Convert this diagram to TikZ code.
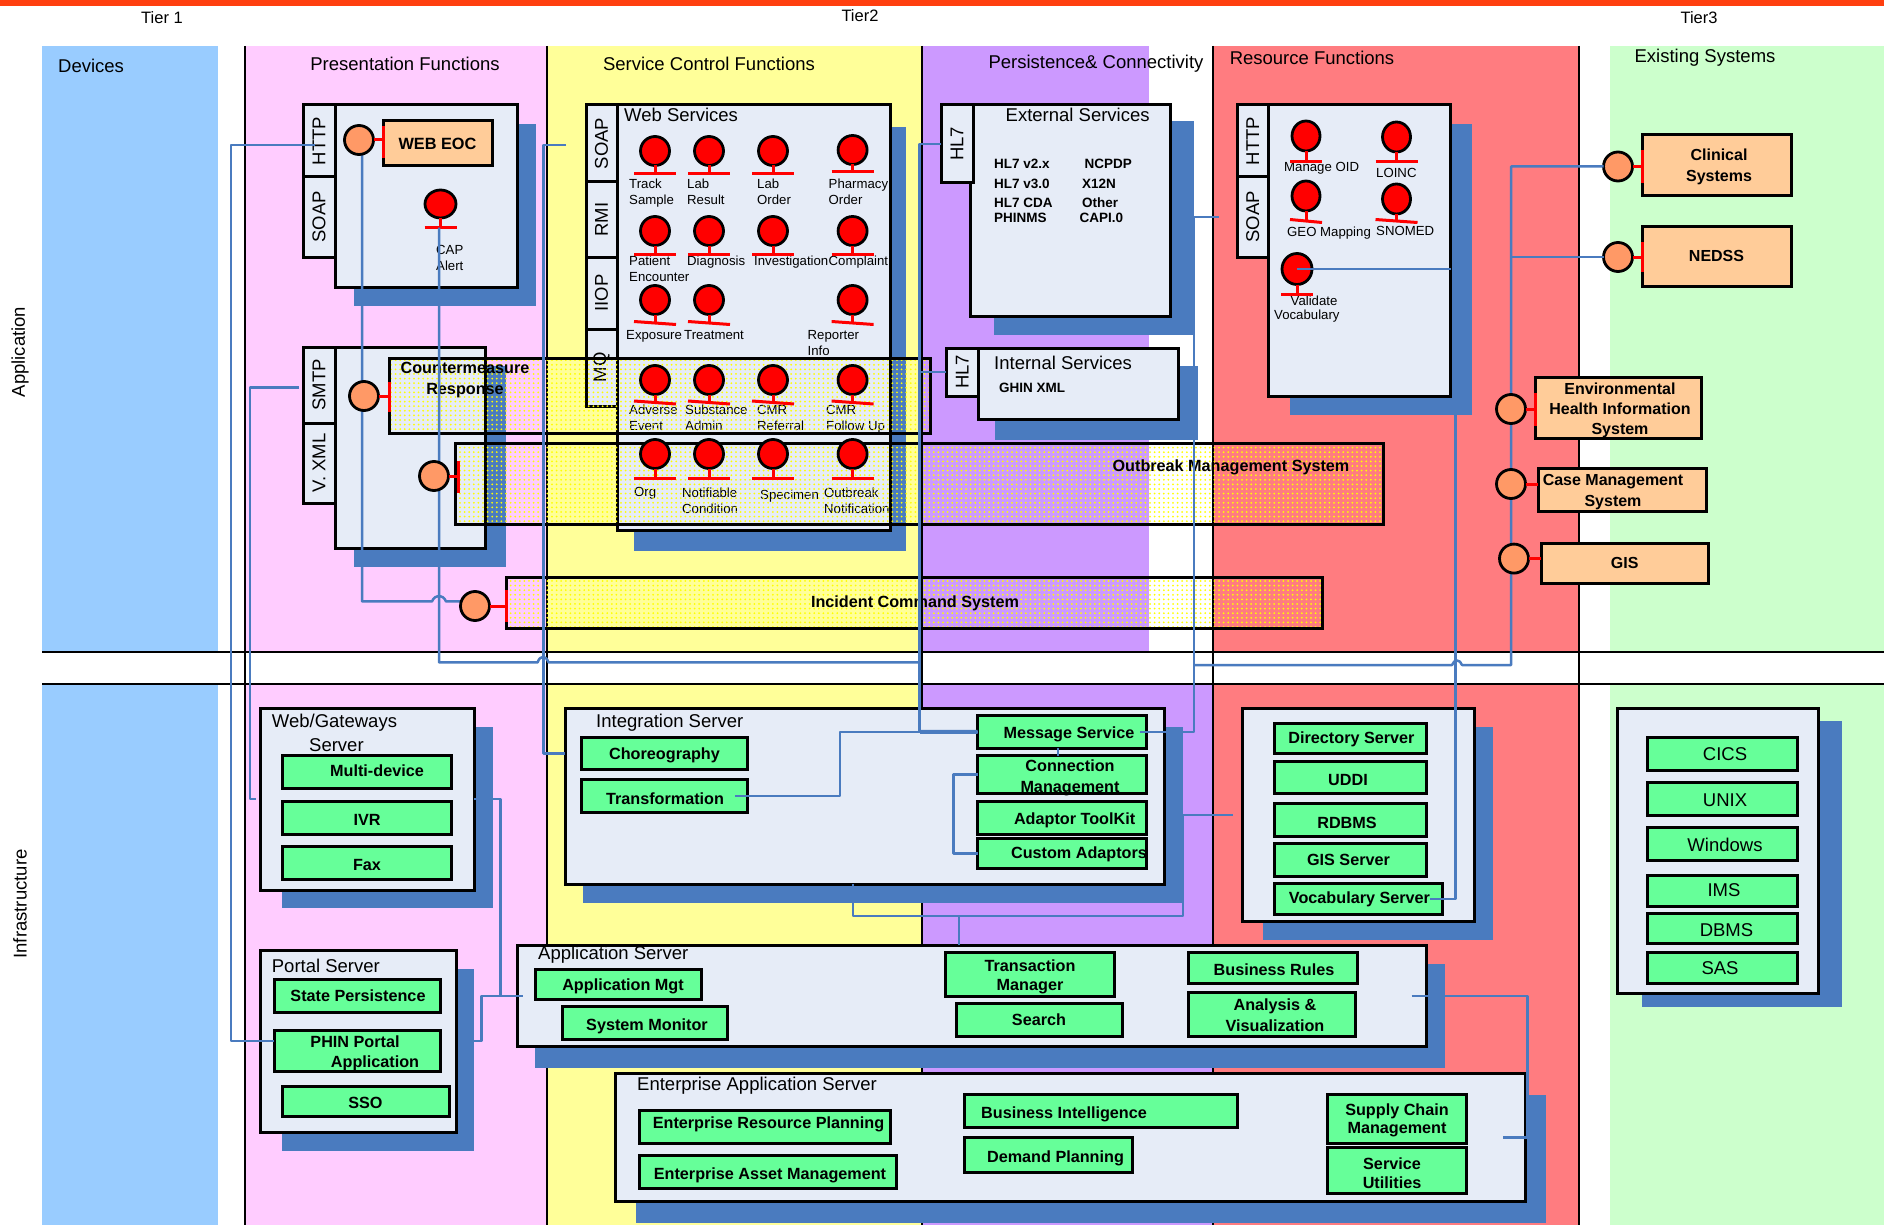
\documentclass[tikz,border=0pt]{standalone}
\usepackage{fontspec}
\setmainfont{Liberation Sans}
\usetikzlibrary{shapes.geometric,patterns.meta,calc}
\definecolor{cDev}{HTML}{99CCFF}
\definecolor{cPink}{HTML}{FFCCFF}
\definecolor{cYel}{HTML}{FFFF99}
\definecolor{cPur}{HTML}{CC99FF}
\definecolor{cRed}{HTML}{FF7C80}
\definecolor{cGrn}{HTML}{CCFFCC}
\definecolor{cTop}{HTML}{FF3F0F}
\definecolor{cShadow}{HTML}{4A7BBF}
\definecolor{cLav}{HTML}{E6ECF7}
\definecolor{cMint}{HTML}{66FF99}
\definecolor{cPeach}{HTML}{FFCC99}
\definecolor{cSock}{HTML}{FF9966}
\tikzset{
  shadow/.style={fill=cShadow,draw=none},
  panel/.style={fill=cLav,draw=black,line width=3pt},
  mint/.style={fill=cMint,draw=black,line width=3pt},
  peach/.style={fill=cPeach,draw=black,line width=3pt},
  dotted box/.style={draw=black,line width=3pt,pattern={Dots[radius=1pt,distance=4.6pt]},pattern color=yellow},
  conn/.style={draw=cShadow,line width=2.5pt,line join=round},
  sep/.style={draw=black,line width=2.2pt},
  sock/.style={ellipse,draw=black,line width=2.8pt,fill=cSock,inner sep=0pt,outer sep=0pt,minimum width=29pt,minimum height=29pt},
  redlink/.style={draw=red,line width=3pt},
  ball/.style={ellipse,draw=black,line width=2.8pt,fill=red,inner sep=0pt,outer sep=0pt},
  ttl/.style={font=\fontsize{18.5}{20}\selectfont,inner sep=0pt},
  lab/.style={font=\fontsize{13.2}{16}\selectfont,inner sep=0pt},
  bld/.style={font=\fontsize{16.2}{20}\bfseries\selectfont,inner sep=0pt},
  sbd/.style={font=\fontsize{13.5}{16}\bfseries\selectfont,inner sep=0pt},
}
\newcounter{lab}
\newcommand\rbx[7]{%
  \pgfmathsetmacro\rbw{#5-#3}\pgfmathsetmacro\rbh{#6-#4}%
  \pgfmathsetmacro\rbcx{(#3+#5)/2}\pgfmathsetmacro\rbcy{(#4+#6)/2}%
  \node[#1,minimum width=\rbw pt,minimum height=\rbh pt,inner sep=0pt,outer sep=0pt] (#2) at (\rbcx,\rbcy) {#7};}
\newcommand\tabx[6]{\rbx{panel}{#1}{#2}{#3}{#4}{#5}{}%
  \stepcounter{lab}\node[ttl,rotate=90] (lb\arabic{lab}) at (#1.center) {#6};}
% text: style, x, y, text (centred)
\newcommand\tc[4]{\stepcounter{lab}\node[#1,align=center,anchor=center] (lb\arabic{lab}) at (#2,#3) {#4};}
% text: style, x, y, text (left)
\newcommand\tw[4]{\stepcounter{lab}\node[#1,align=left,anchor=west] (lb\arabic{lab}) at (#2,#3) {#4};}
% left-aligned label, y of the centre of the first line
\newcommand\tl[3]{\stepcounter{lab}\node[lab,align=left,anchor=north west] (lb\arabic{lab}) at (#1,#2-5) {#3};}
% lollipop: name x y barY halfbar rx ry tilt
\newcommand\lol[8]{%
  \coordinate (#1bar) at (#2,#4);
  \node[ball,minimum width=2*#6 pt,minimum height=2*#7 pt] (#1) at (#2,#3) {};
  \draw[redlink] (#1.south) -- (#1bar);
  \draw[redlink] ($(#1bar)+(-#5,-#8)$) -- ($(#1bar)+(#5,#8)$);}
\begin{document}
\begin{tikzpicture}[x=1pt,y=-1pt]
\useasboundingbox (0,0) rectangle (1884,1225);
\fill[white] (0,0) rectangle (1884,1225);
\fill[cTop] (0,0) rectangle (1884,6);
% columns
\fill[cDev] (42,46) rectangle (218,652); \fill[cDev] (42,684) rectangle (218,1225);
\fill[cPink] (245,46) rectangle (547,652); \fill[cPink] (245,684) rectangle (547,1225);
\fill[cYel] (547,46) rectangle (922,652); \fill[cYel] (547,684) rectangle (922,1225);
\fill[cPur] (922,46) rectangle (1149,652); \fill[cPur] (922,684) rectangle (1213,1225);
\fill[cRed] (1213,46) rectangle (1579,652); \fill[cRed] (1213,684) rectangle (1579,1225);
\fill[cGrn] (1610,46) rectangle (1884,652); \fill[cGrn] (1610,684) rectangle (1884,1225);
% separators
\foreach \sx in {245,547,922,1213,1579} \draw[sep] (\sx,46) -- (\sx,1225);
\draw[sep] (42,652) -- (1884,652);
\draw[sep] (42,684) -- (1884,684);
% headings
\tc{lab,font=\fontsize{16.5}{20}\selectfont}{162}{18}{Tier 1}
\tc{lab,font=\fontsize{16.5}{20}\selectfont}{860}{16}{Tier2}
\tc{lab,font=\fontsize{16.5}{20}\selectfont}{1699}{18}{Tier3}
\tw{ttl}{58}{66}{Devices}
\tc{ttl}{405}{64}{Presentation Functions}
\tc{ttl}{709}{64}{Service Control Functions}
\tc{ttl}{1096}{64}{Persistence\& Connectivity}
\tc{ttl}{1312}{58}{Resource Functions}
\tc{ttl}{1705}{58}{Existing Systems}
\stepcounter{lab}\node[ttl,rotate=90] (lb\arabic{lab}) at (20,352) {Application};
\stepcounter{lab}\node[ttl,rotate=90] (lb\arabic{lab}) at (20,904) {Infrastructure};

% --- Application tier panels
\rbx{shadow}{sh1}{354}{124}{536}{306}{}
\rbx{panel}{pres1}{335}{105}{517}{287}{}
\tabx{thttp}{303}{105}{335}{177}{HTTP}
\tabx{tsoap}{303}{177}{335}{257}{SOAP}
\rbx{peach}{webeoc}{383}{121}{492}{166}{\fontsize{16.3}{20}\bfseries\selectfont WEB EOC}
\tl{436}{250}{CAP\\Alert}

\rbx{shadow}{sh2}{354}{366}{506}{567}{}
\rbx{panel}{pres2}{335}{347}{485}{548}{}
\tabx{tsmtp}{303}{347}{335}{423}{SMTP}
\tabx{tvxml}{303}{423}{335}{503}{V. XML}

\rbx{shadow}{sh3}{634}{127}{906}{551}{}
\rbx{panel}{websvc}{617}{105}{890.5}{530}{}
\tabx{wssoap}{586}{105}{617}{182}{SOAP}
\tabx{wsrmi}{586}{182}{617}{257}{RMI}
\tabx{wsiiop}{586}{257}{617}{329}{IIOP}
\tabx{wsmq}{586}{329}{617}{406}{MQ}
\tw{ttl}{624}{115}{Web Services}
\tl{629}{183.5}{Track\\Sample}
\tl{687}{183.5}{Lab\\Result}
\tl{757}{183.5}{Lab\\Order}
\tl{828.5}{183.5}{Pharmacy\\Order}
\tl{629}{261}{Patient\\Encounter}
\tl{687}{261}{Diagnosis}
\tl{754}{261}{Investigation}
\tl{828.5}{261}{Complaint}
\tl{626}{335}{Exposure}
\tl{684}{335}{Treatment}
\tl{807.5}{335}{Reporter\\Info}
\tl{629}{410}{Adverse\\Event}
\tl{685}{410}{Substance\\Admin}
\tl{757}{410}{CMR\\Referral}
\tl{826}{410}{CMR\\Follow Up}
\tl{634}{492.5}{Org}
\tl{682}{492.5}{Notifiable\\Condition}
\tl{760}{495}{Specimen}
\tl{824}{492.5}{Outbreak\\Notification}

\rbx{shadow}{sh4}{994}{121}{1194}{335}{}
\rbx{panel}{extsvc}{970}{105}{1170}{316}{}
\tabx{hle}{941}{105}{973}{183}{HL7}
\tw{ttl}{1005.5}{115}{External Services}
\tw{sbd}{994}{164}{HL7 v2.x}
\tw{sbd}{994}{183.5}{HL7 v3.0}
\tw{sbd}{994}{202.5}{HL7 CDA}
\tw{sbd}{994}{218}{PHINMS}
\tw{sbd}{1084.5}{164}{NCPDP}
\tw{sbd}{1082}{183.5}{X12N}
\tw{sbd}{1082}{202.5}{Other}
\tw{sbd}{1079.5}{218}{CAPI.0}

\rbx{shadow}{sh5}{995}{366}{1198}{440}{}
\rbx{panel}{intsvc}{978.5}{348}{1178}{419}{}
\tabx{hli}{946}{348}{978.5}{396}{HL7}
\tw{ttl}{994}{363}{Internal Services}
\tw{sbd}{999}{388}{GHIN XML}

\rbx{shadow}{sh6}{1290}{124}{1472}{415}{}
\rbx{panel}{resf}{1268.5}{105}{1450.5}{396}{}
\tabx{rhttp}{1237}{105}{1268.5}{177}{HTTP}
\tabx{rsoap}{1237}{177}{1268.5}{257}{SOAP}
\tl{1284}{167.5}{Manage OID}
\tl{1376}{173}{LOINC}
\tl{1287}{231.5}{GEO Mapping}
\tl{1376}{231.5}{SNOMED}
\tw{lab}{1290.5}{300.7}{Validate}
\tw{lab}{1274}{316.5}{Vocabulary}

% --- Existing systems
\rbx{peach}{clinical}{1642}{134.6}{1791}{196}{}
\tc{bld,font=\fontsize{16}{21.5}\bfseries\selectfont}{1719}{167}{Clinical\\Systems}
\rbx{peach}{nedss}{1642}{226}{1791}{286.5}{\fontsize{16}{20}\bfseries\selectfont NEDSS}
\rbx{peach}{env}{1535}{377.5}{1701}{438.6}{}
\tc{bld,font=\fontsize{16}{20}\bfseries\selectfont}{1620}{410.5}{Environmental\\Health Information\\System}
\rbx{peach}{casem}{1538}{468}{1706}{511}{}
\tc{bld,font=\fontsize{16}{20.5}\bfseries\selectfont}{1613}{492}{Case Management\\System}
\rbx{peach}{gisb}{1541}{543}{1708.5}{583}{\fontsize{16}{20}\bfseries\selectfont GIS}

% --- Infrastructure
\rbx{shadow}{sh7}{282}{726.6}{493}{907.5}{}
\rbx{panel}{webgw}{260}{708}{474}{890}{}
\tw{ttl}{271.7}{723}{Web/Gateways}
\tw{ttl}{309}{745}{Server}
\rbx{mint}{multi}{282}{755.7}{451}{788.5}{}\tc{bld}{377}{771}{Multi-device}
\rbx{mint}{ivr}{282}{801}{451}{834}{}\tc{bld}{367}{819.5}{IVR}
\rbx{mint}{fax}{282}{846}{451}{879}{}\tc{bld}{367}{865}{Fax}

\rbx{shadow}{portalSh}{282}{969}{474}{1151}{}
\rbx{panel}{portal}{260}{950.4}{456}{1132.5}{}
\tw{ttl}{271.7}{965.7}{Portal Server}
\rbx{mint}{state}{274}{979.5}{440}{1012}{}\tc{bld}{358}{995.6}{State Persistence}
\rbx{mint}{phin}{274}{1030}{440}{1071.7}{}
\tc{bld}{355}{1042}{PHIN Portal}
\tc{bld}{375}{1063}{Application}
\rbx{mint}{sso}{282}{1086}{449.6}{1116.5}{}\tc{bld}{365.4}{1102.7}{SSO}

\rbx{shadow}{integSh}{583}{726.6}{1183}{903}{}
\rbx{panel}{integ}{565}{708}{1164.5}{884.4}{}
\tw{ttl}{596}{723}{Integration Server}
\rbx{mint}{choreo}{581}{737}{747}{769.5}{}\tc{bld}{664.5}{755.7}{Choreography}
\rbx{mint}{trans}{581}{779.5}{747}{812.4}{}\tc{bld}{665}{798.6}{Transformation}
\rbx{mint}{msg}{977.6}{715.7}{1146}{748}{}\tc{bld}{1069}{734.8}{Message Service}
\rbx{mint}{connm}{977.6}{755.7}{1146}{793.7}{}
\tc{bld,font=\fontsize{16.2}{21}\bfseries\selectfont}{1070}{777.5}{Connection\\Management}
\rbx{mint}{adapt}{977.6}{801}{1146}{834}{}\tc{bld}{1074.6}{820}{Adaptor ToolKit}
\rbx{mint}{custom}{977.6}{838.5}{1146}{868.4}{}\tc{bld}{1079}{854.6}{Custom Adaptors}

\rbx{shadow}{appSh}{535}{964}{1445}{1067.6}{}
\rbx{panel}{appsrv}{517}{945}{1426}{1046.7}{}
\tw{ttl}{538}{955}{Application Server}
\rbx{mint}{appmgt}{535}{969}{701.5}{999.3}{}\tc{bld}{623}{986}{Application Mgt}
\rbx{mint}{sysmon}{562.5}{1006.4}{727.6}{1039}{}\tc{bld}{647}{1026}{System Monitor}
\rbx{mint}{txn}{945.8}{952.7}{1114}{996.3}{}
\tc{bld,font=\fontsize{16.2}{19}\bfseries\selectfont}{1030}{976.5}{Transaction\\Manager}
\rbx{mint}{search}{956.6}{1003.8}{1122.4}{1036}{}\tc{bld}{1039}{1020}{Search}
\rbx{mint}{rules}{1188}{952.7}{1357}{983.3}{}\tc{bld}{1274}{969.5}{Business Rules}
\rbx{mint}{analysis}{1188}{992.6}{1355}{1036}{}
\tc{bld,font=\fontsize{16.2}{21}\bfseries\selectfont}{1275}{1015}{Analysis \&\\Visualization}

\rbx{shadow}{entSh}{636}{1095}{1545.5}{1223}{}
\rbx{panel}{ent}{615.4}{1073.6}{1525}{1201.6}{}
\tw{ttl}{637}{1086}{Enterprise Application Server}
\rbx{mint}{erp}{639}{1110}{890}{1143}{}\tc{bld}{768.5}{1124}{Enterprise Resource Planning}
\rbx{mint}{eam}{639}{1155.7}{896}{1188.5}{}\tc{bld}{770}{1175}{Enterprise Asset Management}
\rbx{mint}{bi}{964}{1094.5}{1237.5}{1127}{}\tc{bld}{1064}{1114}{Business Intelligence}
\rbx{mint}{demand}{964}{1137}{1132.6}{1172}{}\tc{bld}{1055.5}{1158.7}{Demand Planning}
\rbx{mint}{supply}{1327.5}{1094.5}{1466.5}{1143}{}
\tc{bld,font=\fontsize{16.2}{18.6}\bfseries\selectfont}{1397}{1120.5}{Supply Chain\\Management}
\rbx{mint}{svcu}{1327.5}{1147.5}{1466.5}{1193.7}{}
\tc{bld,font=\fontsize{16.2}{19}\bfseries\selectfont}{1392}{1173.5}{Service\\Utilities}

\rbx{shadow}{resSh2}{1263}{726.6}{1493}{939.6}{}
\rbx{panel}{resinf}{1242.5}{708}{1474.5}{921.7}{}
\rbx{mint}{dir}{1274}{723.6}{1426.5}{753.8}{}\tc{bld}{1351.5}{739.6}{Directory Server}
\rbx{mint}{uddi}{1274}{761}{1426.5}{793.7}{}\tc{bld}{1348}{779.6}{UDDI}
\rbx{mint}{rdbms}{1274}{803.4}{1426.5}{836.3}{}\tc{bld}{1347}{822.5}{RDBMS}
\rbx{mint}{gissrv}{1274}{843.7}{1426.5}{876.2}{}\tc{bld}{1348.5}{859.8}{GIS Server}
\rbx{mint}{vocab}{1274}{883.7}{1442.5}{914.3}{}\tc{bld}{1359.5}{899.7}{Vocabulary Server}

\rbx{shadow}{exSh}{1642}{721}{1842}{1006.8}{}
\rbx{panel}{exist}{1617.5}{708}{1818.5}{993.4}{}
\rbx{mint}{cics}{1647}{737}{1797}{770}{}\tc{ttl}{1725}{754}{CICS}
\rbx{mint}{unix}{1647}{782}{1797}{815}{}\tc{ttl}{1725}{800.4}{UNIX}
\rbx{mint}{win}{1647}{827.7}{1797}{860.5}{}\tc{ttl}{1725}{845}{Windows}
\rbx{mint}{ims}{1647}{875.8}{1797}{906}{}\tc{ttl}{1724}{890}{IMS}
\rbx{mint}{dbms}{1647}{913}{1797}{943.3}{}\tc{ttl}{1726.5}{930}{DBMS}
\rbx{mint}{sas}{1647}{952.7}{1797}{983.3}{}\tc{ttl}{1720}{968.4}{SAS}

% --- dotted overlay boxes
\rbx{dotted box}{cm}{389}{358.5}{930}{433.5}{}
\rbx{dotted box}{om}{455}{443.5}{1383}{524}{}
\rbx{dotted box}{ic}{506}{577}{1322}{628}{}
\tc{bld,font=\fontsize{16.2}{21}\bfseries\selectfont}{465}{380.5}{Countermeasure\\Response}
\tc{bld}{1231}{467.5}{Outbreak Management System}
\tc{bld}{915}{603.5}{Incident Command System}

% --- lollipops
\lol{lCap}{440.5}{204}{227.5}{16}{15.5}{14}{0}
\lol{lTrack}{655}{151}{174}{21}{14.5}{14.5}{0}
\lol{lLabR}{709}{151}{174}{21}{14.5}{14.5}{0}
\lol{lLabO}{773}{151}{174}{21}{14.5}{14.5}{0}
\lol{lPhar}{852.6}{150}{172}{21}{14.5}{14.5}{0}
\lol{lPat}{655}{231}{254}{21}{14.5}{14.5}{0}
\lol{lDiag}{709}{231}{254}{21}{14.5}{14.5}{0}
\lol{lInv}{773}{231}{254}{21}{14.5}{14.5}{0}
\lol{lComp}{852.6}{231}{254}{21}{14.5}{14.5}{0}
\lol{lExp}{655}{300}{323}{21}{14.5}{14.5}{1.5}
\lol{lTreat}{709}{300}{323}{21}{14.5}{14.5}{1.5}
\lol{lRep}{852.6}{300}{323}{21}{14.5}{14.5}{1.5}
\lol{lAdv}{655}{380}{402.5}{21}{14.5}{14.5}{1.5}
\lol{lSub}{709}{380}{402.5}{21}{14.5}{14.5}{1.5}
\lol{lRef}{773}{380}{402.5}{21}{14.5}{14.5}{1.5}
\lol{lFol}{852.6}{380}{402.5}{21}{14.5}{14.5}{1.5}
\lol{lOrg}{655}{454}{478}{21}{14.5}{14.5}{0}
\lol{lNot}{709}{454}{478}{21}{14.5}{14.5}{0}
\lol{lSpe}{773}{454}{478}{21}{14.5}{14.5}{0}
\lol{lOut}{852.6}{454}{478}{21}{14.5}{14.5}{0}
\lol{lOid}{1306}{136}{161.5}{16}{14}{15}{0}
\lol{lLoi}{1396.5}{137}{161.5}{21}{14}{15}{0}
\lol{lGeo}{1306}{196}{221}{16}{14}{15}{1.5}
\lol{lSno}{1396.5}{199}{221}{21}{14}{15}{1.5}
\lol{lVal}{1297}{269}{294}{16}{15}{15.5}{0}

% sockets that connectors end on
\node[sock] (sCl) at (1618,166.5) {};
\node[sock] (sNe) at (1618,257) {};

% --- connectors
\draw[conn] ([xshift=-4pt,yshift=-4pt]thttp.center) -- ++(-84,0) |- ([yshift=10pt]phin.west);
\draw[conn] ([xshift=-4pt,yshift=-2.5pt]tsmtp.west) -- ++(-49,0) |- ([xshift=-4pt]webgw.west);
\draw[conn] (362,140) -- (362,601.4) -- (432,601.4) .. controls (435,594) and (443,594) .. (446,601.4) -- (460.5,601.4);
\draw[conn] ([xshift=-1.5pt]lCapbar) -- (439,662.4) -- (537.6,662.4) .. controls (540,655) and (546,655) .. (548.5,662.4) -- (920,662.4);
\draw[conn] ([xshift=-20pt,yshift=-1.5pt]wssoap.west) -- ++(-22.4,0) |- (integ.west |- choreo.west);
\draw[conn] (hle.west) -- ++(-21.5,0) |- (msg.west);
\draw[conn,line width=4pt] (920,731.8) -- (msg.west);
\draw[conn] (hli.west) -- ++(-26.5,0);
\draw[conn] ([xshift=-12pt]trans.east) -| (840,731.8) -- (920,731.8);
\draw[conn] ([xshift=-18pt]rsoap.west) -- ++(-25,0) |- ([xshift=-6pt]msg.east);
\draw[conn] (sCl.west) -| (1511,665) -- (1462,665) .. controls (1460,659) and (1454,659) .. (1452,665) -- (1194,665);
\draw[conn] (sNe.west) -- ++(-92.5,0);
\draw[conn] (lVal.center) -- (resf.east |- lVal.center);
\draw[conn] ([xshift=-16.5pt]sh6.south east) |- ([xshift=-12.5pt]vocab.east);
\draw[conn] ([xshift=-12pt]integ.south) |- (1183,916) |- ([xshift=-10pt]resinf.west);
\draw[conn] ([xshift=-12.5pt]appsrv.north) -- ++(0,-29);
\draw[conn] (webgw.east) -- ++(26.6,0) |- ([xshift=6pt]appsrv.west);
\draw[conn] ([yshift=19pt]portalSh.east) -- ++(7.5,0) |- ([xshift=6pt]appsrv.west);
\draw[conn] ([xshift=-3.8pt]msg.south) -- ([xshift=-3.8pt]connm.north);
\draw[conn] (connm.west) -- ++(-24,0) |- (custom.west);
\draw[conn] ([xshift=-14.5pt]appsrv.east) -- ++(116,0) |- ([xshift=-22.5pt]ent.east);

% --- remaining sockets
\node[sock] (sWeb) at (359,140) {};
\node[sock] (sCM) at (364,396) {};
\node[sock] (sOM) at (434,476) {};
\node[sock] (sIC) at (475,606) {};
\node[sock] (sEn) at (1511,409) {};
\node[sock] (sCa) at (1511,484) {};
\node[sock] (sGi) at (1514,558.6) {};
\draw[redlink] (sWeb.east) -- (webeoc.west |- sWeb.east); \draw[redlink] (383,126) -- (383,158);
\draw[redlink] (sCM.east) -- (cm.west |- sCM.east); \draw[redlink] (389,382) -- (389,412);
\draw[redlink] (sOM.east) -- (458,476); \draw[redlink] (458,461) -- (458,493);
\draw[redlink] (sIC.east) -- (ic.west |- sIC.east); \draw[redlink] (506,590) -- (506,622);
\draw[redlink] (sCl.east) -- (clinical.west |- sCl.east); \draw[redlink] (1642,150) -- (1642,183);
\draw[redlink] (sNe.east) -- (nedss.west |- sNe.east); \draw[redlink] (1642,242) -- (1642,272);
\draw[redlink] (sEn.east) -- (env.west |- sEn.east); \draw[redlink] (1535,393) -- (1535,426);
\draw[redlink] (sCa.east) -- (casem.west |- sCa.east);
\draw[redlink] (sGi.east) -- (gisb.west |- sGi.east);
\end{tikzpicture}
\end{document}
